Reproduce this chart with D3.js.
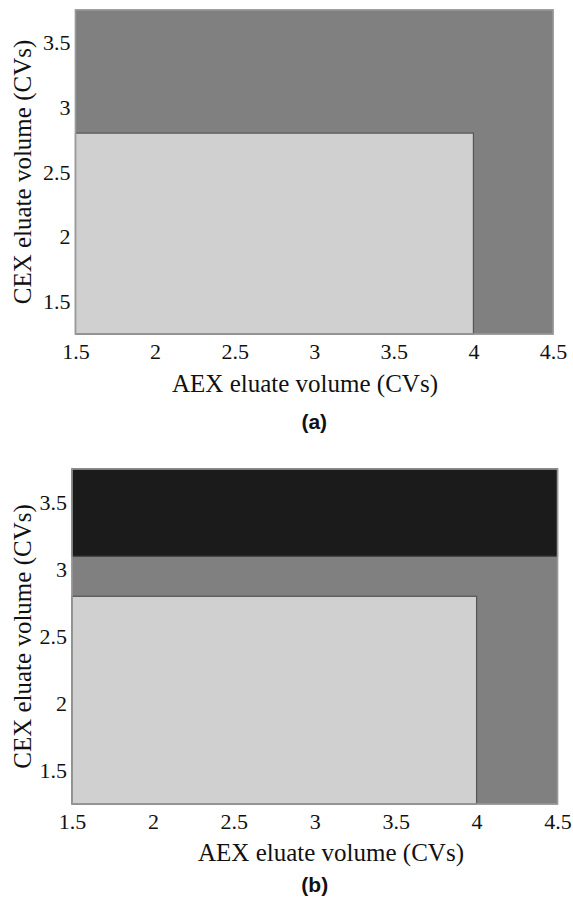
<!DOCTYPE html>
<html>
<head>
<meta charset="utf-8">
<script src="https://cdn.jsdelivr.net/npm/d3@7"></script>
<style>
  html, body { margin: 0; padding: 0; background: #fff; }
  svg { display: block; }
  .serif { font-family: "Liberation Serif", "Times New Roman", Times, serif; }
  .sansb { font-family: "Liberation Sans", Arial, Helvetica, sans-serif; font-weight: bold; }
</style>
</head>
<body>
<svg id="chart" width="573" height="907"></svg>
<script>
// ---- data ----
const xDomain = [1.5, 4.5];
const yDomain = [1.25, 3.75];
const xTicks = [1.5, 2, 2.5, 3, 3.5, 4, 4.5];
const yTicks = [1.5, 2, 2.5, 3, 3.5];
const xTickLabels = ["1.5", "2", "2.5", "3", "3.5", "4", "4.5"];
const yTickLabels = ["1.5", "2", "2.5", "3", "3.5"];
const xTitle = "AEX eluate volume (CVs)";
const yTitle = "CEX eluate volume (CVs)";

// regions: [x0, x1, y0, y1, level]
const regionsA = [
  [1.5, 4.5, 1.25, 3.75, "mid"],
  [1.5, 4.0, 1.25, 2.8, "light"]
];
const regionsB = [
  [1.5, 4.5, 1.25, 3.75, "mid"],
  [1.5, 4.5, 3.1, 3.75, "dark"],
  [1.5, 4.0, 1.25, 2.8, "light"]
];
const panelLabels = ["(a)", "(b)"];

// ---- styles ----
const fills = { mid: "#808080", light: "#d0d0d0", dark: "#1b1b1b" };
const strokes = { mid: "#777", light: "#555", dark: "#333" };

const svg = d3.select("#chart");

function drawPanel(cfg) {
  const x = d3.scaleLinear().domain(xDomain).range([cfg.left, cfg.right]);
  const y = d3.scaleLinear().domain(yDomain).range([cfg.bottom, cfg.top]);
  const g = svg.append("g");

  g.selectAll("rect.region")
    .data(cfg.regions)
    .join("rect")
    .attr("class", "region")
    .attr("x", d => x(d[0]))
    .attr("width", d => x(d[1]) - x(d[0]))
    .attr("y", d => y(d[3]))
    .attr("height", d => y(d[2]) - y(d[3]))
    .attr("fill", d => fills[d[4]])
    .attr("stroke", d => strokes[d[4]])
    .attr("stroke-width", 1.2);

  // frame
  g.append("rect")
    .attr("x", x(xDomain[0])).attr("y", y(yDomain[1]))
    .attr("width", x(xDomain[1]) - x(xDomain[0]))
    .attr("height", y(yDomain[0]) - y(yDomain[1]))
    .attr("fill", "none").attr("stroke", "#9a9a9a").attr("stroke-width", 1.5);

  const xAxis = d3.axisBottom(x).tickValues(xTicks)
    .tickFormat((d, i) => xTickLabels[i]).tickSize(0).tickPadding(cfg.xPad);
  const ax = g.append("g").attr("transform", `translate(0,${cfg.bottom})`).call(xAxis);
  ax.attr("font-family", null).attr("font-size", null);
  ax.select(".domain").remove();
  ax.selectAll("text").attr("class", "serif")
    .style("font-size", "22px").attr("fill", "#111");

  const yAxis = d3.axisLeft(y).tickValues(yTicks)
    .tickFormat((d, i) => yTickLabels[i]).tickSize(0).tickPadding(5);
  const ay = g.append("g").attr("transform", `translate(${cfg.left},0)`).call(yAxis);
  ay.attr("font-family", null).attr("font-size", null);
  ay.select(".domain").remove();
  ay.selectAll("text").attr("class", "serif")
    .style("font-size", "22px").attr("fill", "#111");

  g.append("text")
    .attr("class", "serif")
    .attr("x", cfg.xTitleX).attr("y", cfg.xTitleY)
    .attr("text-anchor", "middle")
    .style("font-size", "25px").attr("fill", "#111")
    .text(xTitle);

  g.append("text")
    .attr("class", "serif")
    .attr("transform", `translate(${cfg.yTitleX},${(cfg.top + cfg.bottom) / 2}) rotate(-90)`)
    .attr("text-anchor", "middle")
    .style("font-size", "25px").attr("fill", "#111")
    .text(yTitle);

  g.append("text")
    .attr("class", "sansb")
    .attr("x", (cfg.left + cfg.right) / 2).attr("y", cfg.labelY)
    .attr("text-anchor", "middle")
    .style("font-size", "21px").attr("fill", "#111")
    .text(cfg.label);
}

drawPanel({
  regions: regionsA, label: panelLabels[0],
  left: 75.5, right: 553, top: 10, bottom: 334,
  xPad: 9, xTitleX: 305, xTitleY: 392, yTitleX: 31, labelY: 429
});
drawPanel({
  regions: regionsB, label: panelLabels[1],
  left: 72, right: 557.5, top: 469, bottom: 804,
  xPad: 9, xTitleX: 331, xTitleY: 861, yTitleX: 31, labelY: 892
});
</script>
</body>
</html>
